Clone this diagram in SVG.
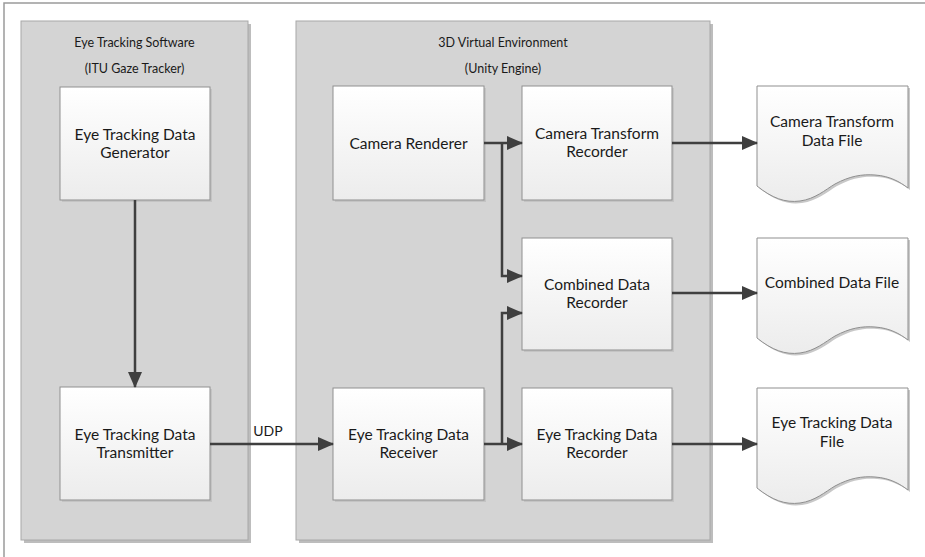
<svg xmlns="http://www.w3.org/2000/svg" width="925" height="557" viewBox="0 0 925 557">
<defs>
<linearGradient id="boxg" x1="0" y1="0" x2="0" y2="1">
<stop offset="0" stop-color="#ffffff"/>
<stop offset="1" stop-color="#ececec"/>
</linearGradient>
<marker id="arr" viewBox="0 0 16 14" refX="15" refY="7" markerWidth="16" markerHeight="14" markerUnits="userSpaceOnUse" orient="auto">
<path d="M0,0 L16,7 L0,14 Z" fill="#3f3f3f"/>
</marker>
<path id="doc" d="M0,0 H151 V102 C143,96 133,90 118,89 C105,88 93,90 78,98 C68,104 58,113 43,115 C28,117 15,112 0,100 Z"/>
</defs>
<style>
.frame{fill:none;stroke:#9a9a9a;stroke-width:1.5}
.cont{fill:#d4d4d4;stroke:#a8a8a8;stroke-width:1}
.shadow{fill:#bdbdbd}
.box{fill:url(#boxg);stroke:#8f8f8f;stroke-width:1}
.bshadow{fill:#c4c4c4}
.t{font-family:Lato,"Open Sans","Liberation Sans",sans-serif;font-size:15.5px;fill:#1a1a1a;text-anchor:middle}
.ct{font-family:Lato,"Open Sans","Liberation Sans",sans-serif;font-size:12.5px;fill:#1a1a1a;text-anchor:middle}
.c{fill:none;stroke:#3f3f3f;stroke-width:2.5}
.ca{fill:none;stroke:#3f3f3f;stroke-width:2.5;marker-end:url(#arr)}
</style>
<path class="frame" d="M4,557 V3 H925"/>

<g id="eye-tracking-software">
<rect class="shadow" x="24" y="24" width="227" height="519"/>
<rect class="cont" x="21" y="21" width="227" height="519"/>
<text class="ct" x="134.5" y="47">Eye Tracking Software</text>
<text class="ct" x="134.5" y="73">(ITU Gaze Tracker)</text>
</g>

<g id="virtual-environment">
<rect class="shadow" x="299" y="24" width="414" height="519"/>
<rect class="cont" x="296" y="21" width="414" height="519"/>
<text class="ct" x="503" y="47">3D Virtual Environment</text>
<text class="ct" x="503" y="73">(Unity Engine)</text>
</g>

<g id="generator">
<rect class="bshadow" x="62" y="89" width="150" height="113"/>
<rect class="box" x="60" y="87" width="150" height="113"/>
<text class="t" x="135" y="140">Eye Tracking Data</text>
<text class="t" x="135" y="158">Generator</text>
</g>

<g id="transmitter">
<rect class="bshadow" x="62" y="389" width="150" height="113"/>
<rect class="box" x="60" y="387" width="150" height="113"/>
<text class="t" x="135" y="440">Eye Tracking Data</text>
<text class="t" x="135" y="458">Transmitter</text>
</g>

<g id="camera-renderer">
<rect class="bshadow" x="335" y="88" width="151" height="114"/>
<rect class="box" x="333" y="86" width="151" height="114"/>
<text class="t" x="408.5" y="149">Camera Renderer</text>
</g>

<g id="camera-transform-recorder">
<rect class="bshadow" x="524" y="88" width="150" height="114"/>
<rect class="box" x="522" y="86" width="150" height="114"/>
<text class="t" x="597" y="139">Camera Transform</text>
<text class="t" x="597" y="157">Recorder</text>
</g>

<g id="combined-data-recorder">
<rect class="bshadow" x="524" y="240" width="150" height="112"/>
<rect class="box" x="522" y="238" width="150" height="112"/>
<text class="t" x="597" y="290">Combined Data</text>
<text class="t" x="597" y="308">Recorder</text>
</g>

<g id="receiver">
<rect class="bshadow" x="335" y="390" width="151" height="112"/>
<rect class="box" x="333" y="388" width="151" height="112"/>
<text class="t" x="408.5" y="440">Eye Tracking Data</text>
<text class="t" x="408.5" y="458">Receiver</text>
</g>

<g id="eye-tracking-data-recorder">
<rect class="bshadow" x="524" y="390" width="150" height="112"/>
<rect class="box" x="522" y="388" width="150" height="112"/>
<text class="t" x="597" y="440">Eye Tracking Data</text>
<text class="t" x="597" y="458">Recorder</text>
</g>

<g id="camera-transform-file">
<use href="#doc" x="759" y="88" fill="#c8c8c8"/>
<use href="#doc" x="757" y="86" class="box"/>
<text class="t" x="832" y="127">Camera Transform</text>
<text class="t" x="832" y="146">Data File</text>
</g>

<g id="combined-data-file">
<use href="#doc" x="759" y="240" fill="#c8c8c8"/>
<use href="#doc" x="757" y="238" class="box"/>
<text class="t" x="832" y="288">Combined Data File</text>
</g>

<g id="eye-tracking-data-file">
<use href="#doc" x="759" y="390" fill="#c8c8c8"/>
<use href="#doc" x="757" y="388" class="box"/>
<text class="t" x="832" y="428">Eye Tracking Data</text>
<text class="t" x="832" y="447">File</text>
</g>

<g id="connectors">
<path class="ca" d="M135,200 V387"/>
<path class="ca" d="M210,444 H333"/>
<text class="ct" x="268" y="436" style="font-size:14px">UDP</text>
<path class="ca" d="M484,143 H522"/>
<path class="ca" d="M502,143 V276 H522"/>
<path class="ca" d="M484,444 H522"/>
<path class="ca" d="M502,444 V313 H522"/>
<path class="ca" d="M672,143 H757"/>
<path class="ca" d="M672,293 H757"/>
<path class="ca" d="M672,444 H757"/>
</g>
</svg>
